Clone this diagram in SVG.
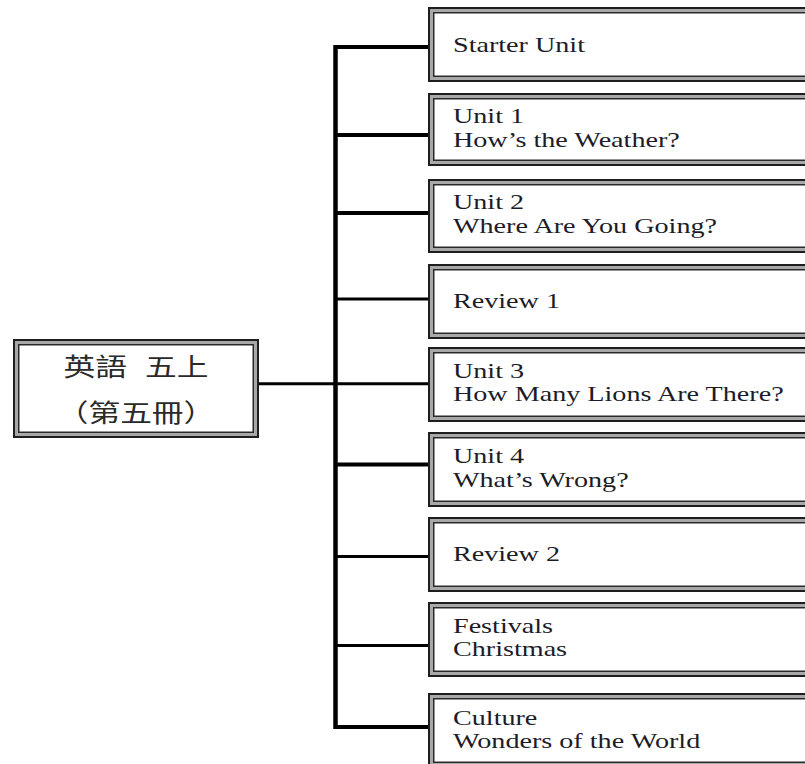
<svg xmlns="http://www.w3.org/2000/svg" width="805" height="764" viewBox="0 0 805 764">
<style>
.bg{fill:#fff;stroke:none}
.o{fill:none;stroke:#1e1e1e;stroke-width:2}
.g{fill:none;stroke:#a8a8a8;stroke-width:3}
.i{fill:none;stroke:#2a2a2a;stroke-width:1.5}
.t{font-family:"Liberation Serif","Times New Roman",serif;font-size:21px;fill:#1c1c28}
.c{font-family:"Noto Sans CJK TC","Noto Sans CJK SC",sans-serif;font-size:25px;fill:#2a2a2a}
.ln{stroke:#000;fill:none}
</style>
<rect width="805" height="764" fill="#fff"/>
<g id="connectors">
<line class="ln" x1="335.5" y1="45" x2="335.5" y2="729" stroke-width="4.5"/>
<line class="ln" x1="259" y1="383.7" x2="429" y2="383.7" stroke-width="3"/>
<line class="ln" x1="335" y1="47" x2="429" y2="47" stroke-width="4"/>
<line class="ln" x1="335" y1="135" x2="429" y2="135" stroke-width="4"/>
<line class="ln" x1="335" y1="213" x2="429" y2="213" stroke-width="4"/>
<line class="ln" x1="335" y1="299" x2="429" y2="299" stroke-width="3"/>
<line class="ln" x1="335" y1="464.5" x2="429" y2="464.5" stroke-width="4"/>
<line class="ln" x1="335" y1="556.5" x2="429" y2="556.5" stroke-width="3"/>
<line class="ln" x1="335" y1="645.5" x2="429" y2="645.5" stroke-width="3"/>
<line class="ln" x1="335" y1="727" x2="429" y2="727" stroke-width="4"/>
</g>
<g id="main">
<rect class="bg" x="13" y="339" width="246" height="99"/>
<rect class="o" x="14" y="340" width="244" height="97"/>
<rect class="g" x="16.5" y="342.5" width="239" height="92"/>
<rect class="i" x="18.75" y="344.75" width="234.5" height="87.5"/>
<text class="c" transform="translate(136 376) scale(1.27 1)"><tspan x="-57">英語</tspan> <tspan x="7">五上</tspan></text>
<text class="c" transform="translate(136 422) scale(1.27 1)" text-anchor="middle">（第五冊）</text>
</g>
<g id="n1">
<rect class="bg" x="428" y="7" width="400" height="75"/>
<rect class="o" x="429" y="8" width="400" height="73"/>
<rect class="g" x="431.5" y="10.5" width="400" height="68"/>
<rect class="i" x="433.75" y="12.75" width="400" height="63.5"/>
<text class="t" transform="translate(453 52) scale(1.34 1)">Starter Unit</text>
</g>
<g id="n2">
<rect class="bg" x="428" y="93" width="400" height="73"/>
<rect class="o" x="429" y="94" width="400" height="71"/>
<rect class="g" x="431.5" y="96.5" width="400" height="66"/>
<rect class="i" x="433.75" y="98.75" width="400" height="61.5"/>
<text class="t" transform="translate(453 123) scale(1.34 1)">Unit 1</text>
<text class="t" transform="translate(453 147) scale(1.34 1)">How’s the Weather?</text>
</g>
<g id="n3">
<rect class="bg" x="428" y="179" width="400" height="74"/>
<rect class="o" x="429" y="180" width="400" height="72"/>
<rect class="g" x="431.5" y="182.5" width="400" height="67"/>
<rect class="i" x="433.75" y="184.75" width="400" height="62.5"/>
<text class="t" transform="translate(453 209) scale(1.34 1)">Unit 2</text>
<text class="t" transform="translate(453 233) scale(1.34 1)">Where Are You Going?</text>
</g>
<g id="n4">
<rect class="bg" x="428" y="264" width="400" height="75"/>
<rect class="o" x="429" y="265" width="400" height="73"/>
<rect class="g" x="431.5" y="267.5" width="400" height="68"/>
<rect class="i" x="433.75" y="269.75" width="400" height="63.5"/>
<text class="t" transform="translate(453 308) scale(1.34 1)">Review 1</text>
</g>
<g id="n5">
<rect class="bg" x="428" y="347" width="400" height="75"/>
<rect class="o" x="429" y="348" width="400" height="73"/>
<rect class="g" x="431.5" y="350.5" width="400" height="68"/>
<rect class="i" x="433.75" y="352.75" width="400" height="63.5"/>
<text class="t" transform="translate(453 378) scale(1.34 1)">Unit 3</text>
<text class="t" transform="translate(453 401) scale(1.34 1)">How Many Lions Are There?</text>
</g>
<g id="n6">
<rect class="bg" x="428" y="432" width="400" height="75"/>
<rect class="o" x="429" y="433" width="400" height="73"/>
<rect class="g" x="431.5" y="435.5" width="400" height="68"/>
<rect class="i" x="433.75" y="437.75" width="400" height="63.5"/>
<text class="t" transform="translate(453 463) scale(1.34 1)">Unit 4</text>
<text class="t" transform="translate(453 487) scale(1.34 1)">What’s Wrong?</text>
</g>
<g id="n7">
<rect class="bg" x="428" y="517" width="400" height="75"/>
<rect class="o" x="429" y="518" width="400" height="73"/>
<rect class="g" x="431.5" y="520.5" width="400" height="68"/>
<rect class="i" x="433.75" y="522.75" width="400" height="63.5"/>
<text class="t" transform="translate(453 561) scale(1.34 1)">Review 2</text>
</g>
<g id="n8">
<rect class="bg" x="428" y="602" width="400" height="75"/>
<rect class="o" x="429" y="603" width="400" height="73"/>
<rect class="g" x="431.5" y="605.5" width="400" height="68"/>
<rect class="i" x="433.75" y="607.75" width="400" height="63.5"/>
<text class="t" transform="translate(453 633) scale(1.34 1)">Festivals</text>
<text class="t" transform="translate(453 656) scale(1.34 1)">Christmas</text>
</g>
<g id="n9">
<rect class="bg" x="428" y="693" width="400" height="75"/>
<rect class="o" x="429" y="694" width="400" height="73"/>
<rect class="g" x="431.5" y="696.5" width="400" height="68"/>
<rect class="i" x="433.75" y="698.75" width="400" height="63.5"/>
<text class="t" transform="translate(453 725) scale(1.34 1)">Culture</text>
<text class="t" transform="translate(453 748) scale(1.34 1)">Wonders of the World</text>
</g>
</svg>
